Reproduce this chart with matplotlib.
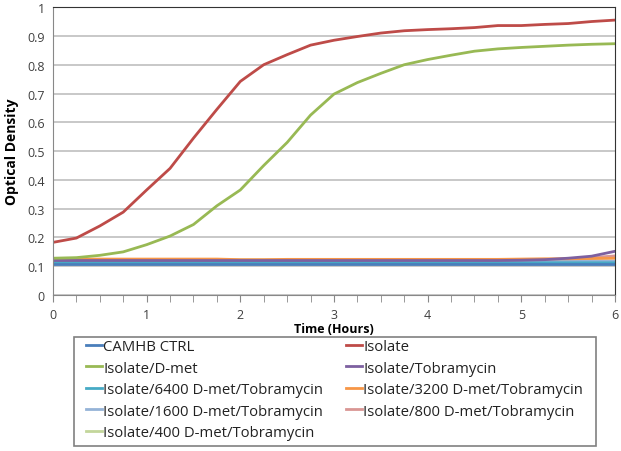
import matplotlib
matplotlib.use("Agg")
import matplotlib.pyplot as plt
from matplotlib.patches import Rectangle
import numpy as np

plt.rcParams['font.family'] = ['Open Sans', 'DejaVu Sans']

hours = [0, 0.25, 0.5, 0.75, 1, 1.25, 1.5, 1.75, 2, 2.25, 2.5, 2.75, 3, 3.25, 3.5,
         3.75, 4, 4.25, 4.5, 4.75, 5, 5.25, 5.5, 5.75, 6]

camhb = [0.108]*25
isolate = [0.183, 0.198, 0.240, 0.288, 0.365, 0.440, 0.545, 0.645, 0.742, 0.800, 0.835,
           0.868, 0.885, 0.898, 0.910, 0.918, 0.922, 0.925, 0.929, 0.936, 0.936, 0.940,
           0.943, 0.950, 0.955]
dmet = [0.128, 0.130, 0.138, 0.150, 0.175, 0.205, 0.245, 0.310, 0.365, 0.450, 0.530,
        0.625, 0.698, 0.738, 0.770, 0.800, 0.818, 0.833, 0.847, 0.855, 0.860, 0.864,
        0.868, 0.871, 0.873]
tobra = [0.120]*20 + [0.121, 0.123, 0.128, 0.135, 0.152]
d6400 = [0.113]*14 + [0.112]*11
d3200 = [0.125]*8 + [0.123]*2 + [0.124]*10 + [0.125, 0.126, 0.126, 0.127, 0.128]
d1600 = [0.116]*20 + [0.116, 0.117, 0.117, 0.118, 0.118]
d800 = [0.120]*20 + [0.121, 0.122, 0.125, 0.130, 0.136]
d400 = [0.122]*20 + [0.122, 0.123, 0.125, 0.127, 0.130]

labels = ["CAMHB CTRL", "Isolate", "Isolate/D-met", "Isolate/Tobramycin",
          "Isolate/6400 D-met/Tobramycin", "Isolate/3200 D-met/Tobramycin",
          "Isolate/1600 D-met/Tobramycin", "Isolate/800 D-met/Tobramycin",
          "Isolate/400 D-met/Tobramycin"]
series = [camhb, isolate, dmet, tobra, d6400, d3200, d1600, d800, d400]
colors = ["#4A7EBB", "#BE4B48", "#98B954", "#7D60A0", "#46AAC5", "#F79646",
          "#95B3D7", "#D99694", "#C3D69B"]

W, H = 621, 452
fig = plt.figure(figsize=(W/100, H/100), dpi=100)
ax = fig.add_axes([0.0853, 0.345, 0.905, 0.637])

# draw low series first so the growth curves are on top
order = [8, 7, 6, 4, 5, 3, 0, 2, 1]
handles = {}
for i in order:
    h, = ax.plot(hours, series[i], color=colors[i], lw=2, label=labels[i])
    handles[i] = h

ax.set_xlim(0, 6)
ax.set_ylim(0, 1)
ax.set_yticks(np.arange(0, 1.01, 0.1))
ax.set_yticklabels(["0", "0.1", "0.2", "0.3", "0.4", "0.5", "0.6", "0.7", "0.8", "0.9", "1"])
ax.set_xticks(range(7))
ax.set_xticks(np.arange(0, 6.01, 0.25), minor=True)
ax.yaxis.grid(True, color="#BFBFBF", lw=1.2)
ax.set_axisbelow(True)
ax.tick_params(axis='y', length=0, labelsize=9, colors="#404040", pad=6)
ax.tick_params(axis='x', which='both', length=5, color="#888888", labelsize=9,
               labelcolor="#404040", direction='out', pad=4)
for s in ['left', 'bottom']:
    ax.spines[s].set_color("#888888")
for s in ['top', 'right']:
    ax.spines[s].set_color("#333333")
ax.set_xlabel("Time (Hours)", fontsize=9, fontweight='bold', labelpad=1)
ax.set_ylabel("Optical Density", fontsize=10, fontweight='bold', labelpad=6)

# legend frame
fig.patches.append(Rectangle((74/W, 1-447/H), (596-74)/W, (447-338)/H,
                             transform=fig.transFigure, fill=False,
                             edgecolor="#808080", lw=1.2))

# legend in row order (two columns)
leg_handles = [handles[i] for i in [0, 2, 4, 6, 8, 1, 3, 5, 7]]
leg_labels = [labels[i] for i in [0, 2, 4, 6, 8, 1, 3, 5, 7]]
leg = fig.legend(leg_handles, leg_labels, ncol=2, loc='upper left',
                 bbox_to_anchor=(86/W, 1-340/H), fontsize=10.7, frameon=False,
                 handlelength=1.05, handletextpad=0.1, columnspacing=1.55,
                 labelspacing=0.44, borderpad=0, borderaxespad=0)
for t in leg.get_texts():
    t.set_color("#222222")

fig.savefig("out.png", dpi=100)
